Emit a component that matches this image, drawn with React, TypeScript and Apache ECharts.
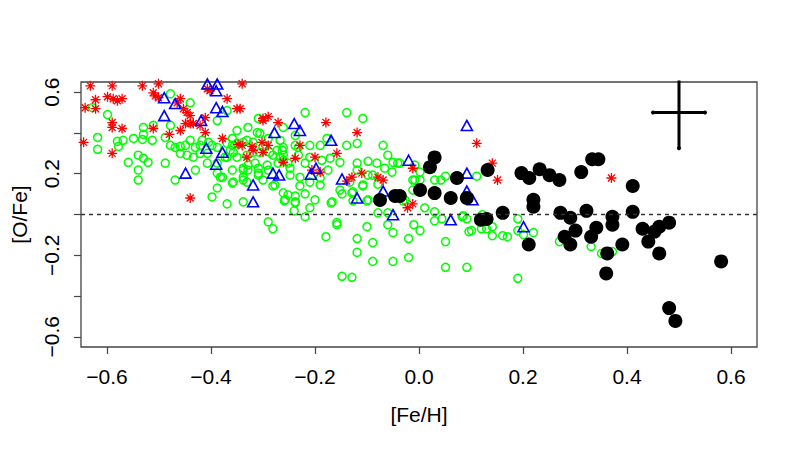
import React, { useEffect, useRef } from "react";
import * as echarts from "echarts";

// [Fe/H], [O/Fe] pairs
const greenPts: number[][] = [
  [-0.628,0.524],[-0.478,0.592],[-0.440,0.548],[-0.369,0.510],[-0.599,0.490],[-0.388,0.461],[-0.530,0.427],[-0.511,0.437],[-0.478,0.437],[-0.329,0.427],[-0.350,0.412],[-0.311,0.402],[-0.488,0.378],[-0.618,0.378],[-0.618,0.320],[-0.580,0.359],[-0.578,0.334],[-0.569,0.364],[-0.549,0.373],[-0.532,0.368],[-0.530,0.393],[-0.513,0.364],[-0.478,0.339],[-0.469,0.329],[-0.459,0.334],[-0.449,0.339],[-0.440,0.364],[-0.430,0.329],[-0.421,0.339],[-0.459,0.300],[-0.446,0.291],[-0.434,0.281],[-0.421,0.300],[-0.407,0.300],[-0.398,0.339],[-0.388,0.329],[-0.540,0.291],[-0.530,0.276],[-0.521,0.256],[-0.559,0.256],[-0.488,0.252],[-0.540,0.218],[-0.540,0.169],[-0.469,0.169],[-0.430,0.218],[-0.407,0.252],[-0.388,0.252],[-0.388,0.203],[-0.378,0.183],[-0.359,0.154],[-0.388,0.130],[-0.398,0.086],[-0.369,0.052],[-0.338,0.062],[-0.359,0.373],[-0.359,0.339],[-0.350,0.349],[-0.338,0.354],[-0.357,0.305],[-0.369,0.281],[-0.350,0.281],[-0.331,0.291],[-0.319,0.305],[-0.359,0.218],[-0.338,0.218],[-0.329,0.218],[-0.338,0.183],[-0.315,0.252],[-0.309,0.193],
  [-0.338,0.169],[-0.300,0.169],[-0.281,0.140],[-0.290,-0.036],[-0.281,-0.070],[-0.229,0.140],[-0.190,0.145],[-0.261,0.106],[-0.252,0.096],[-0.238,0.091],[-0.219,0.101],[-0.259,0.067],[-0.238,0.057],[-0.240,0.018],[-0.210,0.033],[-0.219,-0.011],[-0.169,0.057],[-0.148,0.101],[-0.129,0.106],[-0.108,0.140],[-0.127,0.067],[-0.100,0.067],[-0.079,0.149],[-0.079,0.008],[-0.060,0.008],[-0.031,0.067],[0.011,0.033],[0.030,0.013],[0.030,-0.031],[0.044,-0.021],[0.030,0.169],[0.085,-0.006],[-0.158,-0.050],[-0.179,-0.109],[-0.100,-0.060],[-0.060,-0.050],[-0.050,-0.089],[-0.119,-0.118],[-0.089,-0.138],[-0.119,-0.186],[-0.089,-0.230],[-0.050,-0.230],[-0.020,-0.118],[-0.020,-0.211],[-0.010,-0.050],[0.002,-0.079],[0.051,-0.133],[0.051,-0.259],[0.092,-0.259],[0.096,-0.084],[-0.148,-0.303],[-0.129,-0.308],
  [-0.037,0.252],[-0.008,0.242],[0.002,0.208],[-0.008,0.169],[0.002,0.169],[0.042,0.169],[0.051,0.188],[0.111,0.188],[-0.027,0.072],[0.083,-0.011],[0.092,-0.021],[0.122,-0.001],[0.101,-0.079],[0.120,-0.070],[0.130,-0.070],[0.141,-0.060],[0.141,-0.104],[0.161,-0.104],[0.170,-0.109],[0.190,-0.021],[0.190,-0.079],[0.201,-0.099],[0.220,-0.089],[0.190,-0.313],[0.270,-0.133],[0.331,-0.157],[0.351,-0.191],[0.372,-0.182],
  [-0.219,0.500],[-0.139,0.500],[-0.108,0.471],[-0.261,0.427],[-0.238,0.388],[-0.290,0.373],[-0.267,0.364],[-0.210,0.339],[-0.190,0.339],[-0.177,0.373],[-0.139,0.339],[-0.119,0.349],[-0.069,0.339],[-0.060,0.291],[-0.050,0.256],[-0.041,0.252],[-0.098,0.261],[-0.081,0.252],[-0.119,0.252],[-0.119,0.218],[-0.152,0.256],[-0.171,0.276],[-0.175,0.218],[-0.052,0.208],[-0.012,0.169],[-0.190,0.179],[-0.210,0.159],[-0.152,0.120],[-0.200,0.072],[-0.167,0.062],[-0.127,0.111],[-0.098,0.072],[-0.158,-0.040],[-0.238,0.339],[-0.232,0.329],[-0.306,0.305],[-0.300,0.329],[-0.219,0.252],[-0.210,0.281],[-0.187,0.266],[-0.232,0.291],[-0.263,0.315],[-0.261,0.291],[-0.281,0.291],[-0.319,0.354],[-0.331,0.364],[-0.309,0.471],[-0.012,0.120],[-0.066,0.227],[-0.098,0.193],[-0.089,0.193],[-0.133,0.159],[-0.108,0.145],[-0.338,0.227],[-0.329,0.242],[-0.309,0.227],[-0.309,0.203],[-0.292,0.242],[-0.290,0.218],[-0.261,0.266],[-0.252,0.252],[-0.248,0.227],[-0.248,0.193],[-0.229,0.183],[-0.257,0.072],[-0.238,0.062],
  [-0.306,0.398],[-0.287,0.305],[-0.273,0.315],[-0.267,0.281],[-0.271,0.252],[-0.261,0.329],[-0.277,0.145],[-0.382,0.183],[-0.357,0.159],[-0.331,0.159],[-0.417,0.364],[-0.405,0.354],[-0.369,0.349],[-0.373,0.281],[-0.363,0.315]
];

const redPts: number[][] = [
  [-0.632,0.631],[-0.590,0.631],[-0.532,0.631],[-0.501,0.641],[-0.622,0.563],[-0.599,0.578],[-0.588,0.568],[-0.571,0.568],[-0.580,0.558],[-0.642,0.524],[-0.622,0.519],[-0.511,0.597],[-0.507,0.582],[-0.501,0.573],[-0.459,0.568],[-0.465,0.548],[-0.407,0.617],[-0.402,0.607],[-0.369,0.568],[-0.350,0.519],[-0.340,0.641],[-0.453,0.519],[-0.446,0.500],[-0.440,0.485],[-0.590,0.451],[-0.590,0.427],[-0.571,0.422],[-0.411,0.475],[-0.511,0.422],[-0.480,0.393],[-0.459,0.412],[-0.449,0.446],[-0.434,0.446],[-0.421,0.437],[-0.411,0.402],[-0.645,0.354],[-0.378,0.373],[-0.348,0.344],[-0.590,0.300],[-0.440,0.081],[-0.344,0.519],[-0.300,0.471],[-0.290,0.480],[-0.271,0.451],[-0.179,0.451],[-0.119,0.402],[-0.340,0.339],[-0.321,0.334],[-0.319,0.315],[-0.331,0.281],[-0.302,0.354],[-0.300,0.305],[-0.290,0.339],[-0.229,0.339],[-0.238,0.276],[-0.261,0.256],[-0.200,0.281],[-0.158,0.300],[-0.206,0.218],[-0.190,0.208],[-0.139,0.164],[-0.129,0.183],[-0.110,0.203],[-0.079,0.183],[-0.069,0.169],[-0.012,0.227],[-0.012,0.052],[-0.022,0.033],[0.111,0.349],[0.141,0.252],[0.151,0.169],[0.370,0.179],[-0.440,0.446],[-0.300,0.461]
];

const bluePts: number[][] = [
  [-0.490,0.573],[-0.469,0.544],[-0.490,0.485],[-0.390,0.607],[-0.390,0.524],[-0.378,0.505],[-0.419,0.461],[-0.409,0.325],[-0.378,0.305],[-0.390,0.247],[-0.449,0.203],[-0.319,0.145],[-0.319,0.062],[-0.407,0.64],[-0.388,0.64],[-0.278,0.402],[-0.240,0.446],[-0.229,0.412],[-0.169,0.364],[-0.281,0.203],[-0.269,0.194],[-0.198,0.227],[-0.208,0.198],[-0.148,0.174],[-0.119,0.081],[-0.069,0.115],[-0.050,-0.001],[-0.020,0.266],[0.092,0.203],[0.092,0.115],[0.103,0.072],[0.061,-0.026],[0.201,-0.060],[0.092,0.437]
];

const blackPts: number[][] = [
  [-0.075,0.071],[-0.046,0.091],[-0.037,0.091],[0.002,0.120],[0.030,0.280],[0.021,0.232],[0.030,0.105],[0.061,0.081],[0.073,0.179],[0.092,0.081],[0.119,-0.026],[0.130,-0.022],[0.132,0.218],[0.161,0.008],[0.197,0.203],[0.212,0.179],[0.232,0.222],[0.251,0.193],[0.270,0.169],[0.211,-0.147],[0.220,0.072],[0.220,0.038],[0.272,0.008],[0.280,-0.109],[0.291,-0.016],[0.301,-0.079],[0.291,-0.147],[0.312,0.208],[0.322,0.018],[0.333,0.271],[0.345,0.271],[0.341,-0.065],[0.331,-0.109],[0.372,-0.011],[0.372,-0.050],[0.411,0.140],[0.411,0.013],[0.391,-0.147],[0.362,-0.191],[0.360,-0.289],[0.430,-0.070],[0.441,-0.133],[0.453,-0.084],[0.462,-0.060],[0.481,-0.040],[0.462,-0.191],[0.581,-0.230],[0.481,-0.459],[0.493,-0.522]
];

// typical error bar: centre and half-widths
const errCenter = [0.5, 0.5];
const errHalf = [0.05, 0.175];

const xTicks = [-0.6, -0.4, -0.2, 0, 0.2, 0.4, 0.6];
const yTicks = [-0.6, -0.4, -0.2, 0, 0.2, 0.4, 0.6];
const yLabels = [-0.6, -0.2, 0.2, 0.6];

const FONT = "'Liberation Sans', Arial, Helvetica, sans-serif";
const FS = 21;
const STAR = "path://M5,0L5,10M0,5L10,5M1.5,1.5L8.5,8.5M1.5,8.5L8.5,1.5";

const fmt = (v: number) => {
  const s = Math.abs(v) < 1e-9 ? "0.0" : v.toFixed(1);
  return s.replace("-", "\u2212");
};

export default function App() {
  const ref = useRef<HTMLDivElement>(null);
  useEffect(() => {
    if (!ref.current) return;
    const chart = echarts.init(ref.current, undefined, { renderer: "svg" });
    const axisCommon = {
      type: "value" as const,
      min: -0.65,
      max: 0.65,
      splitLine: { show: false },
      axisLine: { show: false, onZero: false },
    };
    const tick = (vals: number[]) => ({ show: true, inside: false, length: 7, lineStyle: { color: "#444", width: 1.2 }, customValues: vals });
    chart.setOption({
      animation: false,
      backgroundColor: "#ffffff",
      grid: { left: 81, right: 43, top: 82, bottom: 103, show: true, borderColor: "#444", borderWidth: 1.3, backgroundColor: "transparent" },
      xAxis: {
        ...axisCommon,
        position: "bottom",
        name: "[Fe/H]",
        nameLocation: "middle",
        nameGap: 57,
        nameTextStyle: { fontFamily: FONT, fontSize: FS, color: "#000" },
        axisTick: tick(xTicks),
        axisLabel: { fontFamily: FONT, fontSize: FS, color: "#000", margin: 19, customValues: xTicks, formatter: (v: number) => fmt(v) },
      },
      yAxis: {
        ...axisCommon,
        position: "left",
        name: "[O/Fe]",
        nameLocation: "middle",
        nameGap: 51,
        nameTextStyle: { fontFamily: FONT, fontSize: FS, color: "#000" },
        axisTick: tick(yTicks),
        axisLabel: { fontFamily: FONT, fontSize: FS, color: "#000", margin: 19, rotate: 90, customValues: yLabels, formatter: (v: number) => fmt(v) },
      },
      series: [
        {
          type: "scatter",
          data: greenPts,
          symbol: "circle",
          symbolSize: 8,
          itemStyle: { color: "rgba(0,0,0,0)", borderColor: "#00ff00", borderWidth: 1.5, opacity: 1 },
          markLine: {
            silent: true,
            symbol: "none",
            label: { show: false },
            lineStyle: { color: "#333", width: 1.3, type: [4, 4] },
            data: [{ yAxis: 0 }],
          },
        },
        {
          type: "scatter",
          data: redPts,
          symbol: STAR,
          symbolSize: 10,
          itemStyle: { color: "rgba(0,0,0,0)", borderColor: "#ff0000", borderWidth: 1.3, opacity: 1 },
        },
        {
          type: "scatter",
          data: bluePts,
          symbol: "triangle",
          symbolSize: [11, 10],
          itemStyle: { color: "rgba(0,0,0,0)", borderColor: "#0000ff", borderWidth: 1.6, opacity: 1 },
        },
        {
          type: "scatter",
          data: blackPts,
          symbol: "circle",
          symbolSize: 14,
          itemStyle: { color: "#000", opacity: 1 },
        },
        {
          type: "line",
          data: [[errCenter[0] - errHalf[0], errCenter[1]], [errCenter[0] + errHalf[0], errCenter[1]]],
          symbol: "circle",
          symbolSize: 4,
          showSymbol: true,
          itemStyle: { color: "#000" },
          lineStyle: { color: "#000", width: 3 },
        },
        {
          type: "line",
          data: [[errCenter[0], errCenter[1] - errHalf[1]], [errCenter[0], errCenter[1] + errHalf[1]]],
          symbol: "circle",
          symbolSize: 4,
          showSymbol: true,
          itemStyle: { color: "#000" },
          lineStyle: { color: "#000", width: 3 },
        },
      ],
    });
    return () => chart.dispose();
  }, []);
  return <div ref={ref} style={{ position: "fixed", left: 0, top: 0, width: 800, height: 450, background: "#fff" }} />;
}
